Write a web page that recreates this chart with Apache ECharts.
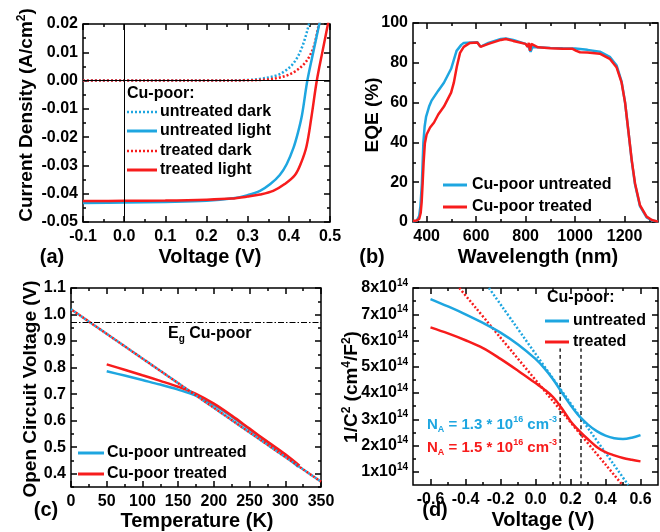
<!DOCTYPE html>
<html>
<head>
<meta charset="utf-8">
<script src="https://cdn.jsdelivr.net/npm/echarts@6/dist/echarts.min.js"></script>
<style>
html, body { margin: 0; padding: 0; background: #fff; }
#chart { width: 660px; height: 532px; }
</style>
</head>
<body>
<div id="chart"></div>
<script>
// (a) J-V curves
var jvUntreatedDarkV = [-0.1, 0, 0.1, 0.2, 0.3, 0.33, 0.37, 0.39, 0.407, 0.42, 0.431, 0.44, 0.449, 0.455]
var jvUntreatedDarkJ = [0, 0, 0, 0, 0.0002, 0.0006, 0.0018, 0.0033, 0.0054, 0.008, 0.0114, 0.0152, 0.02, 0.023]
var jvUntreatedLightV = [-0.1, 0, 0.1, 0.2, 0.265, 0.3, 0.33, 0.355, 0.378, 0.395, 0.411, 0.422, 0.432, 0.445, 0.46, 0.474, 0.48]
var jvUntreatedLightJ = [-0.0433, -0.0431, -0.0429, -0.0425, -0.0416, -0.0405, -0.039, -0.0366, -0.0334, -0.0295, -0.0239, -0.0185, -0.0122, 0, 0.0105, 0.02, 0.024]
var jvTreatedDarkV = [-0.1, 0, 0.1, 0.2, 0.3, 0.35, 0.375, 0.395, 0.415, 0.434, 0.448, 0.459, 0.466, 0.473, 0.478]
var jvTreatedDarkJ = [0, 0, 0, 0, 0.0001, 0.0004, 0.001, 0.0018, 0.0032, 0.0054, 0.008, 0.0114, 0.015, 0.02, 0.023]
var jvTreatedLightV = [-0.1, 0, 0.1, 0.2, 0.26, 0.3, 0.33, 0.362, 0.39, 0.415, 0.43, 0.443, 0.455, 0.468, 0.482, 0.495, 0.5]
var jvTreatedLightJ = [-0.0426, -0.0425, -0.0424, -0.0421, -0.0417, -0.041, -0.0403, -0.039, -0.0366, -0.0334, -0.029, -0.0232, -0.0128, 0, 0.0105, 0.02, 0.024]
var jvXTicks = [-0.1, 0, 0.1, 0.2, 0.3, 0.4, 0.5]
var jvXMinor = [-0.05, 0.05, 0.15, 0.25, 0.35, 0.45]
var jvYTicks = [-0.05, -0.04, -0.03, -0.02, -0.01, 0, 0.01, 0.02]
var jvYMinor = [-0.045, -0.035, -0.025, -0.015, -0.005, 0.005, 0.015]

// (b) EQE
var eqeWlUntreated = [345, 360, 365, 370, 375, 381, 387, 392, 398, 410, 420, 447, 470, 499, 521, 540, 550, 580, 605, 616, 625, 650, 700, 720, 750, 800, 812, 820, 828, 850, 900, 950, 1000, 1050, 1100, 1140, 1168, 1188, 1202, 1215, 1229, 1242, 1262, 1289, 1310, 1335]
var eqeUntreated = [0.3, 0.6, 1, 3, 8, 19.6, 40, 48, 53, 58, 61, 66, 70, 77, 86, 89, 90, 90.2, 90.3, 88.3, 88.5, 90, 92, 92.2, 91.5, 89.5, 88, 85.5, 88, 87.8, 87.5, 87.3, 87.2, 86.5, 85.6, 83, 78.6, 70.5, 60, 46, 30.5, 19, 8, 2.3, 0.8, 0.2]
var eqeWlTreated = [345, 360, 370, 376, 380, 384, 388, 393, 400, 414, 430, 447, 470, 499, 510, 522, 535, 550, 575, 605, 612, 618, 628, 650, 700, 720, 750, 800, 808, 813, 818, 823, 830, 850, 900, 950, 990, 1005, 1020, 1050, 1100, 1140, 1168, 1188, 1202, 1215, 1229, 1242, 1262, 1289, 1310, 1335]
var eqeTreated = [0.5, 0.8, 1.5, 4.5, 10, 19.6, 30, 39.6, 44, 47.5, 50, 54, 58, 65, 70, 78, 85, 88, 90, 90.2, 90.5, 88, 88.5, 89.5, 91.5, 92, 91, 89.5, 88, 90, 86, 89.5, 88.5, 87.8, 87.3, 87, 87, 86, 85.3, 85.2, 84.6, 82, 77.6, 70, 60, 46, 31, 19.5, 8.5, 2.7, 1, 0.2]
var eqeXTicks = [400, 600, 800, 1000, 1200]
var eqeXMinor = [500, 700, 900, 1100, 1300]
var eqeYTicks = [0, 20, 40, 60, 80, 100]
var eqeYMinor = [10, 30, 50, 70, 90]

// (c) Voc vs temperature
var vocTempUntreated = [50, 75, 100, 125, 150, 175, 200, 225, 250, 275, 300, 318]
var vocUntreated = [0.786, 0.770, 0.753, 0.736, 0.717, 0.694, 0.659, 0.615, 0.567, 0.518, 0.470, 0.426]
var vocTempTreated = [50, 75, 100, 125, 150, 175, 200, 225, 250, 275, 300, 320]
var vocTreated = [0.812, 0.792, 0.771, 0.750, 0.728, 0.701, 0.664, 0.619, 0.570, 0.521, 0.473, 0.430]
var vocFitT = [0, 350]
var vocFitV = [1.02, 0.37]
var egCuPoor = 0.97
var vocXTicks = [0, 50, 100, 150, 200, 250, 300, 350]
var vocXMinor = [25, 75, 125, 175, 225, 275, 325]
var vocYTicks = [0.4, 0.5, 0.6, 0.7, 0.8, 0.9, 1.0, 1.1]
var vocYMinor = [0.35, 0.45, 0.55, 0.65, 0.75, 0.85, 0.95, 1.05]

// (d) Mott-Schottky, 1/C^2 in units of 1e14 cm^4/F^2
var cvBias = [-0.6, -0.5, -0.4, -0.3, -0.2, -0.1, 0, 0.05, 0.1, 0.15, 0.2, 0.25, 0.3, 0.35, 0.4, 0.45, 0.5, 0.55, 0.6]
var cvUntreated = [7.58, 7.30, 7.00, 6.67, 6.30, 5.85, 5.30, 4.95, 4.53, 4.03, 3.55, 3.12, 2.80, 2.55, 2.38, 2.28, 2.25, 2.30, 2.40]
var cvTreated = [6.50, 6.27, 6.01, 5.71, 5.30, 4.85, 4.38, 4.14, 3.85, 3.42, 2.93, 2.56, 2.24, 1.95, 1.75, 1.63, 1.53, 1.46, 1.40]
var cvFitUntreatedV = [-0.266, 0.53]
var cvFitTreatedV = [-0.435, 0.497]
var cvFitC = [8.0, 0.5]
var cvMarkV = [0.141, 0.26]
var cvMarkC = [0.5, 5.7]
var cvXTicks = [-0.6, -0.4, -0.2, 0, 0.2, 0.4, 0.6]
var cvXMinor = [-0.5, -0.3, -0.1, 0.1, 0.3, 0.5]
var cvYTicks = [1, 2, 3, 4, 5, 6, 7, 8]
var cvYMinor = [1.5, 2.5, 3.5, 4.5, 5.5, 6.5, 7.5]

var BLUE = '#1ea6e0'
var RED = '#f71c1c'
var FONT = '"Liberation Sans", Arial, Helvetica, sans-serif'

function zip(xs, ys) {
    return xs.map(function (x, i) { return [x, ys[i]] })
}

function richStyles(size, color) {
    return {
        n: { fontSize: size, fontWeight: 'bold', fontFamily: FONT, fill: color, color: color, lineHeight: size + 4 },
        sup: { fontSize: Math.round(size * 0.62), fontWeight: 'bold', fontFamily: FONT, fill: color, color: color, verticalAlign: 'top', lineHeight: Math.round(size * 0.55) },
        sub: { fontSize: Math.round(size * 0.62), fontWeight: 'bold', fontFamily: FONT, fill: color, color: color, verticalAlign: 'bottom', lineHeight: Math.round(size * 0.55) }
    }
}

// four axes per direction: main, minor, mirrored main, mirrored minor
function makeAxes(dim, g, min, max, major, minor, fmt) {
    var pos = dim === 'x' ? ['bottom', 'top'] : ['left', 'right']
    var out = []
    pos.forEach(function (p, i) {
        [major, minor].forEach(function (vals, j) {
            var labeled = i === 0 && j === 0
            out.push({
                type: 'value', gridIndex: g, position: p, min: min, max: max,
                axisLine: { show: false, onZero: false },
                splitLine: { show: false },
                axisTick: { show: true, inside: true, length: j ? 3 : 6, customValues: vals, lineStyle: { color: '#000', width: 1.5 } },
                axisLabel: labeled ? {
                    show: true, customValues: major, formatter: fmt,
                    margin: dim === 'x' ? 7 : 5,
                    color: '#000', fontSize: 16, fontWeight: 'bold', fontFamily: FONT,
                    rich: richStyles(16, '#000')
                } : { show: false }
            })
        })
    })
    return out
}

function line(g, data, color, width, dash, offset) {
    return {
        type: 'line', xAxisIndex: 4 * g, yAxisIndex: 4 * g, data: data,
        symbol: 'none', silent: true, animation: false,
        smooth: 0.35,
        lineStyle: { color: color, width: width, type: dash || 'solid', dashOffset: offset || 0 }
    }
}

function text(x, y, str, size, color, align, rot) {
    return {
        type: 'text', x: x, y: y, rotation: rot || 0, silent: true,
        style: {
            text: str, fill: color || '#000',
            font: 'bold ' + size + 'px ' + FONT,
            textAlign: align || 'center', textVerticalAlign: 'middle',
            rich: richStyles(size, color || '#000')
        }
    }
}

function sample(x1, x2, y, color, dash) {
    return {
        type: 'line', silent: true,
        shape: { x1: x1, y1: y, x2: x2, y2: y },
        style: { stroke: color, lineWidth: dash ? 2.5 : 3, lineDash: dash || null }
    }
}

var myChart = echarts.init(document.getElementById('chart'), null, { renderer: 'canvas' })

var f1 = function (v) { return v.toFixed(1) }
var f2 = function (v) { return v.toFixed(2) }
var f0 = function (v) { return String(Math.round(v)) }
var fe = function (v) { return '{n|' + v + 'x10}{sup|14}' }

var gridStyle = { show: true, borderColor: '#000', borderWidth: 1.5, backgroundColor: 'transparent' }
var DOT = [2, 2]

var option = {
    backgroundColor: '#fff',
    animation: false,
    textStyle: { fontFamily: FONT },
    grid: [
        Object.assign({ left: 83, top: 24, width: 247, height: 198, outerBoundsMode: 'none' }, gridStyle),
        Object.assign({ left: 413, top: 23, width: 245, height: 199, outerBoundsMode: 'none' }, gridStyle),
        Object.assign({ left: 71, top: 288, width: 250, height: 199, outerBoundsMode: 'none' }, gridStyle),
        Object.assign({ left: 413, top: 288, width: 245, height: 197, outerBoundsMode: 'none' }, gridStyle)
    ],
    xAxis: [].concat(
        makeAxes('x', 0, -0.1, 0.5, jvXTicks, jvXMinor, f1),
        makeAxes('x', 1, 345, 1335, eqeXTicks, eqeXMinor, f0),
        makeAxes('x', 2, 0, 350, vocXTicks, vocXMinor, f0),
        makeAxes('x', 3, -0.7, 0.7, cvXTicks, cvXMinor, f1)
    ),
    yAxis: [].concat(
        makeAxes('y', 0, -0.05, 0.02, jvYTicks, jvYMinor, f2),
        makeAxes('y', 1, 0, 100, eqeYTicks, eqeYMinor, f0),
        makeAxes('y', 2, 0.35, 1.1, vocYTicks, vocYMinor, f1),
        makeAxes('y', 3, 0.5, 8, cvYTicks, cvYMinor, fe)
    ),
    series: [
        Object.assign(line(0, zip(jvUntreatedDarkV, jvUntreatedDarkJ), BLUE, 2.5, DOT), {
            markLine: {
                silent: true, symbol: ['none', 'none'], label: { show: false },
                lineStyle: { color: '#000', width: 1, type: 'solid' },
                data: [{ xAxis: 0 }, { yAxis: 0 }]
            }
        }),
        line(0, zip(jvTreatedDarkV, jvTreatedDarkJ), RED, 2.5, DOT),
        line(0, zip(jvUntreatedLightV, jvUntreatedLightJ), BLUE, 2.5),
        line(0, zip(jvTreatedLightV, jvTreatedLightJ), RED, 2.5),

        Object.assign(line(1, zip(eqeWlUntreated, eqeUntreated), BLUE, 2.5), { smooth: false }),
        Object.assign(line(1, zip(eqeWlTreated, eqeTreated), RED, 2.5), { smooth: false }),

        line(2, zip(vocTempUntreated, vocUntreated), BLUE, 2.5),
        line(2, zip(vocTempTreated, vocTreated), RED, 2.5),
        Object.assign(line(2, zip(vocFitT, vocFitV), BLUE, 2.5, DOT), {
            markLine: {
                silent: true, symbol: ['none', 'none'], label: { show: false },
                lineStyle: { color: '#000', width: 1, type: [6, 2, 1.5, 2] },
                data: [{ yAxis: egCuPoor }]
            }
        }),
        line(2, zip(vocFitT, vocFitV), RED, 2.5, DOT, 2),

        line(3, zip(cvFitUntreatedV, cvFitC), BLUE, 2.5, DOT),
        line(3, zip(cvFitTreatedV, cvFitC), RED, 2.5, DOT),
        line(3, zip([cvMarkV[0], cvMarkV[0]], cvMarkC), '#222', 1.5, [4, 3]),
        line(3, zip([cvMarkV[1], cvMarkV[1]], cvMarkC), '#222', 1.5, [4, 3]),
        line(3, zip(cvBias, cvUntreated), BLUE, 2.5),
        line(3, zip(cvBias, cvTreated), RED, 2.5)
    ],
    graphic: [
        // axis titles
        text(27, 115, '{n|Current Density (A/cm}{sup|2}{n|)}', 19, '#000', 'center', Math.PI / 2),
        text(210, 257, 'Voltage (V)', 20),
        text(373, 115, 'EQE (%)', 19, '#000', 'center', Math.PI / 2),
        text(538, 257, 'Wavelength (nm)', 20),
        text(31, 389, 'Open Circuit Voltage (V)', 19, '#000', 'center', Math.PI / 2),
        text(197, 521, 'Temperature (K)', 20),
        text(352, 387, '{n|1/C}{sup|2}{n| (cm}{sup|4}{n|/F}{sup|2}{n|)}', 19, '#000', 'center', Math.PI / 2),
        text(543, 520, 'Voltage (V)', 20),
        // panel tags
        text(52, 257, '(a)', 20),
        text(372, 257, '(b)', 20),
        text(46, 510, '(c)', 20),
        text(435, 510, '(d)', 20),
        // legend (a)
        text(127, 94, 'Cu-poor:', 16, '#000', 'left'),
        sample(127, 157, 112, BLUE, DOT),
        text(160, 112, 'untreated dark', 16, '#000', 'left'),
        sample(127, 157, 131, BLUE),
        text(160, 131, 'untreated light', 16, '#000', 'left'),
        sample(127, 157, 151, RED, DOT),
        text(160, 151, 'treated dark', 16, '#000', 'left'),
        sample(127, 157, 170, RED),
        text(160, 170, 'treated light', 16, '#000', 'left'),
        // legend (b)
        sample(443, 467, 185, BLUE),
        text(472, 185, 'Cu-poor untreated', 16, '#000', 'left'),
        sample(443, 467, 207, RED),
        text(472, 207, 'Cu-poor treated', 16, '#000', 'left'),
        // legend and note (c)
        sample(78, 104, 453, BLUE),
        text(107, 453, 'Cu-poor untreated', 16, '#000', 'left'),
        sample(78, 104, 474, RED),
        text(107, 474, 'Cu-poor treated', 16, '#000', 'left'),
        text(168, 334, '{n|E}{sub|g}{n| Cu-poor}', 16, '#000', 'left'),
        // legend and notes (d)
        text(547, 298, 'Cu-poor:', 16, '#000', 'left'),
        sample(545, 569, 321, BLUE),
        text(573, 321, 'untreated', 16, '#000', 'left'),
        sample(545, 569, 342, RED),
        text(573, 342, 'treated', 16, '#000', 'left'),
        text(427, 425, '{n|N}{sub|A}{n| = 1.3 * 10}{sup|16}{n| cm}{sup|-3}', 15, BLUE, 'left'),
        text(427, 448, '{n|N}{sub|A}{n| = 1.5 * 10}{sup|16}{n| cm}{sup|-3}', 15, RED, 'left')
    ]
}

myChart.setOption(option)
</script>
</body>
</html>
